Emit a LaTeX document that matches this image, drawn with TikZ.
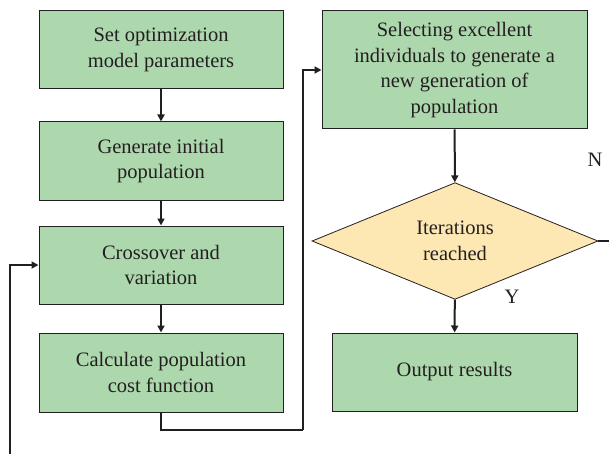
\documentclass[tikz,border=0pt]{standalone}
\usepackage{fontspec}
\setmainfont{Liberation Serif}
\usetikzlibrary{arrows.meta,shapes.geometric}

\definecolor{boxgreen}{RGB}{173,215,173}
\definecolor{diayellow}{RGB}{253,231,178}
\definecolor{inkgray}{RGB}{35,31,32}

\tikzset{
    stepbox/.style={draw=inkgray, line width=1pt, fill=boxgreen, text=inkgray,
        align=center, inner sep=0pt, font=\fontsize{20.5}{25.5}\selectfont},
    decide/.style={diamond, draw=inkgray, line width=0.8pt, fill=diayellow, text=inkgray,
        align=center, inner sep=0pt, font=\fontsize{20.5}{25.5}\selectfont},
    arr/.style={draw=inkgray, line width=2pt, -{Triangle[length=7pt,width=7pt]}},
    link/.style={draw=inkgray, line width=2pt},
    mark label/.style={text=inkgray, font=\fontsize{20.5}{24}\selectfont}
}

\begin{document}
\begin{tikzpicture}[x=1pt, y=-1pt]
    % --- frame of the picture ---
    \useasboundingbox (0,0) rectangle (609,454);

    % --- left column ---
    \node[stepbox, minimum width=244pt, minimum height=78pt] (setpar) at (161,50)
        {Set optimization\\model parameters};
    \node[stepbox, minimum width=244pt, minimum height=78pt] (initpop) at (161,161)
        {Generate initial\\population};
    \node[stepbox, minimum width=244pt, minimum height=78pt] (cross) at (161,265)
        {Crossover and\\variation};
    \node[stepbox, minimum width=244pt, minimum height=79pt] (cost) at (161,372.5)
        {Calculate population\\cost function};

    % --- right column ---
    \node[stepbox, minimum width=265pt, minimum height=118pt] (select) at (454.5,70)
        {Selecting excellent\\individuals to generate a\\new generation of\\population};
    \node[decide, minimum width=286pt, minimum height=112pt] (iter) at (455,241)
        {Iterations\\reached};
    \node[stepbox, minimum width=245pt, minimum height=78pt] (output) at (454.5,372)
        {Output results};

    % --- branch labels ---
    \node[mark label] (nlabel) at (595,160) {N};
    \node[mark label] (ylabel) at (512,297) {Y};

    % --- loose ends (cut at the edge) ---
    \coordinate (turn) at (303,430);
    \coordinate (loopend) at (10,456);
    \coordinate (nout) at (610,241);

    % --- arrows ---
    \draw[arr] (setpar) -- (initpop);
    \draw[arr] (initpop) -- (cross);
    \draw[arr] (cross) -- (cost);
    \draw[link] (cost.south) |- (turn);
    \draw[arr] (turn) |- (select.west);
    \draw[arr] (select) -- (iter);
    \draw[arr] (iter) -- (output);
    \draw[link] (iter.east) -- (nout);
    \draw[arr] (loopend) |- (cross.west);

\end{tikzpicture}
\end{document}
